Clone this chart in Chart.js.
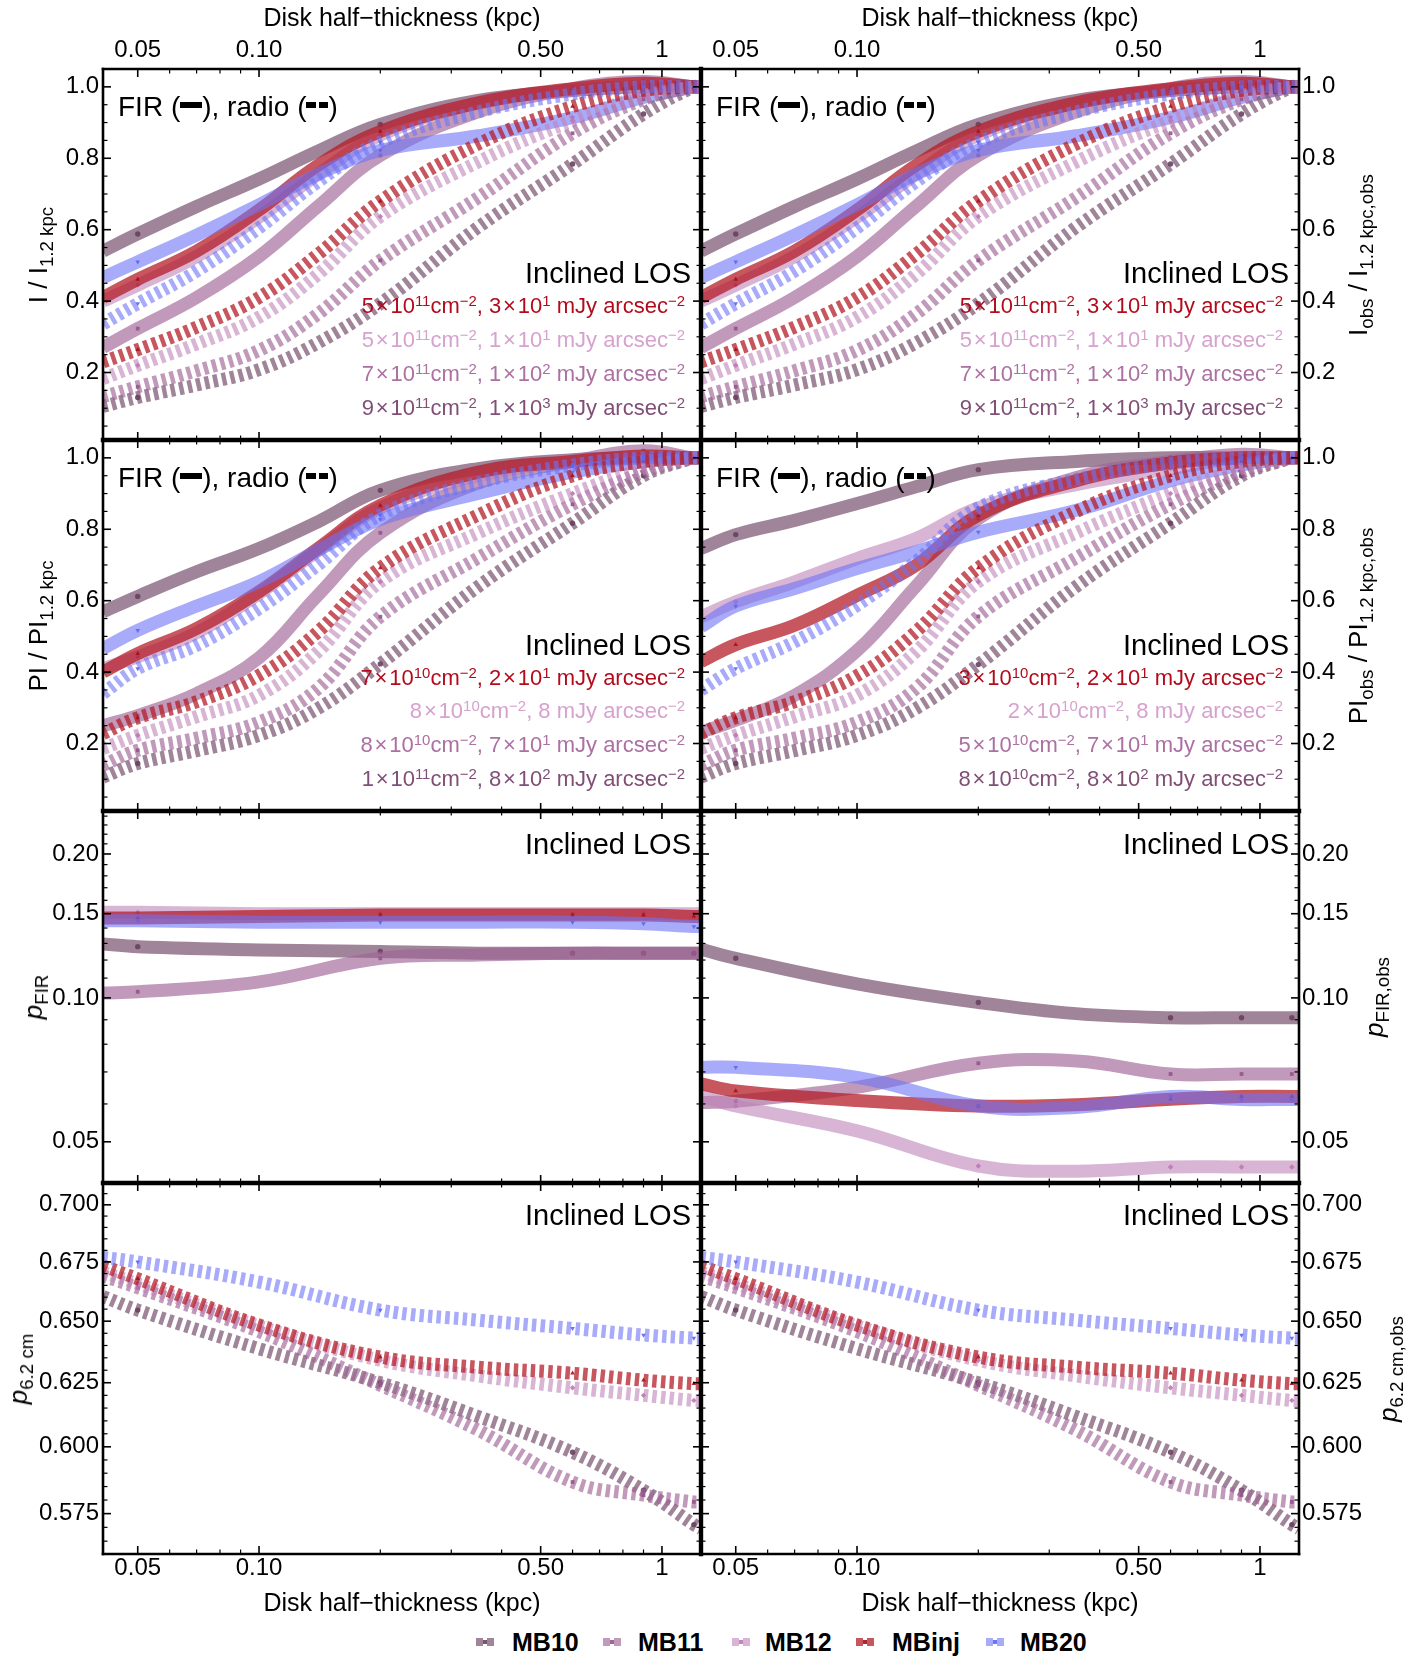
<!DOCTYPE html>
<html>
<head>
<meta charset="utf-8">
<title>Disk half-thickness profiles</title>
<script src="https://cdn.jsdelivr.net/npm/chart.js@4.4.1/dist/chart.umd.min.js"></script>
<style>
  body { margin: 0; width: 1425px; height: 1660px; background: #fff; position: relative; overflow: hidden;
         font-family: 'Liberation Sans', Arial, sans-serif; color: #000; }
  canvas { position: absolute; }
  .t { position: absolute; white-space: nowrap; line-height: 1; }
  .t sup { font-size: 68%; position: relative; top: -0.5em; vertical-align: baseline; line-height: 0; }
  .t sub { font-size: 72%; position: relative; top: 0.32em; vertical-align: baseline; line-height: 0; }
  .bar { display: inline-block; width: 22px; height: 6px; background: #000; vertical-align: 0.27em; }
  .dbar { display: inline-block; width: 22px; height: 6px; vertical-align: 0.27em;
          background: linear-gradient(90deg, #000 0 9.5px, transparent 9.5px 12.5px, #000 12.5px 22px); }
  .leg { position: absolute; font-weight: bold; font-size: 25px; line-height: 1; transform: translateY(-50%); }
  .ic { position: absolute; width: 18px; height: 8px; transform: translate(-50%, -50%); }
  .ic i { position: absolute; left: 7px; top: 2px; width: 4px; height: 4px; }
</style>
</head>
<body>
<script>
// thickness samples (kpc), simulations sit at 0.05, 0.2, 0.6, 0.9, 1.2
const xFine = [0.041, 0.05, 0.07, 0.1, 0.14, 0.2, 0.35, 0.6, 0.9, 1.2, 1.25];
const xCoarse = [0.041, 0.05, 0.1, 0.2, 0.35, 0.6, 0.9, 1.2, 1.25];
const simPoints = [0.05, 0.2, 0.6, 0.9, 1.2];
const models = ['MB10', 'MB11', 'MB12', 'MBinj', 'MB20'];

const xTicks = [0.05, 0.1, 0.5, 1];
const xTickLabels = ['0.05', '0.10', '0.50', '1'];
const xMinor = [0.06, 0.07, 0.08, 0.09, 0.2, 0.3, 0.4, 0.6, 0.7, 0.8, 0.9];
const normTicks = [0.2, 0.4, 0.6, 0.8, 1.0];
const normMinor = [0.05, 0.1, 0.15, 0.25, 0.3, 0.35, 0.45, 0.5, 0.55, 0.65, 0.7, 0.75, 0.85, 0.9, 0.95];
const pFirTicks = [0.05, 0.1, 0.15, 0.2];
const pFirMinor = [0.06, 0.07, 0.08, 0.09, 0.11, 0.12, 0.13, 0.14, 0.16, 0.17, 0.18, 0.19, 0.21, 0.22, 0.23, 0.24];
const p6Ticks = [0.575, 0.6, 0.625, 0.65, 0.675, 0.7];
const p6Minor = [0.565, 0.57, 0.58, 0.585, 0.59, 0.595, 0.605, 0.61, 0.615, 0.62, 0.63, 0.635, 0.64, 0.645,
                 0.655, 0.66, 0.665, 0.67, 0.68, 0.685, 0.69, 0.695, 0.705];

// rows are MB10, MB11, MB12, MBinj, MB20 -- on xFine
const iFir = [
  [0.540, 0.588, 0.665, 0.742, 0.820, 0.895, 0.962, 0.990, 1.000, 1.000, 1.000],
  [0.270, 0.323, 0.410, 0.525, 0.665, 0.808, 0.930, 0.995, 1.015, 1.000, 1.000],
  [0.400, 0.445, 0.525, 0.635, 0.755, 0.865, 0.955, 0.990, 1.000, 1.000, 1.000],
  [0.410, 0.461, 0.540, 0.655, 0.780, 0.875, 0.955, 0.995, 1.010, 1.000, 1.000],
  [0.466, 0.510, 0.585, 0.670, 0.755, 0.822, 0.863, 0.914, 0.970, 1.000, 1.000]
];
const iRadio = [
  [0.105, 0.130, 0.165, 0.208, 0.283, 0.393, 0.607, 0.784, 0.924, 1.000, 1.000],
  [0.132, 0.160, 0.205, 0.262, 0.364, 0.514, 0.690, 0.870, 0.965, 1.000, 1.000],
  [0.183, 0.220, 0.280, 0.355, 0.475, 0.637, 0.790, 0.905, 0.975, 1.000, 1.000],
  [0.230, 0.264, 0.327, 0.410, 0.531, 0.680, 0.840, 0.945, 0.990, 1.000, 1.000],
  [0.336, 0.393, 0.484, 0.605, 0.734, 0.845, 0.930, 0.980, 1.000, 1.000, 1.000]
];
// observed-frame intensity looks the same as the intrinsic one
const iFirObs = iFir;
const iRadioObs = iRadio;

const piFir = [
  [0.569, 0.612, 0.681, 0.746, 0.821, 0.909, 0.970, 0.995, 1.000, 1.000, 1.000],
  [0.250, 0.278, 0.340, 0.440, 0.615, 0.790, 0.930, 0.990, 1.020, 1.000, 1.000],
  [0.410, 0.443, 0.510, 0.620, 0.740, 0.860, 0.950, 0.990, 1.000, 1.000, 1.000],
  [0.400, 0.452, 0.522, 0.625, 0.746, 0.867, 0.960, 0.990, 1.005, 1.000, 1.000],
  [0.466, 0.517, 0.585, 0.653, 0.741, 0.828, 0.900, 0.960, 0.990, 1.000, 1.000]
];
const piRadio = [
  [0.106, 0.144, 0.180, 0.223, 0.298, 0.423, 0.640, 0.817, 0.950, 1.000, 1.000],
  [0.139, 0.181, 0.215, 0.260, 0.354, 0.555, 0.720, 0.870, 0.960, 1.000, 1.000],
  [0.186, 0.223, 0.275, 0.335, 0.457, 0.653, 0.790, 0.900, 0.970, 1.000, 1.000],
  [0.228, 0.272, 0.317, 0.391, 0.513, 0.692, 0.840, 0.950, 0.990, 1.000, 1.000],
  [0.340, 0.410, 0.475, 0.578, 0.700, 0.840, 0.930, 0.980, 1.000, 1.000, 1.000]
];
const piFirObs = [
  [0.746, 0.785, 0.825, 0.872, 0.919, 0.967, 0.990, 1.000, 1.000, 1.000, 1.000],
  [0.232, 0.265, 0.335, 0.460, 0.640, 0.830, 0.945, 0.990, 1.010, 1.000, 1.000],
  [0.555, 0.597, 0.653, 0.718, 0.774, 0.860, 0.925, 0.970, 1.000, 1.000, 1.000],
  [0.429, 0.477, 0.531, 0.615, 0.699, 0.839, 0.936, 0.986, 1.000, 1.000, 1.000],
  [0.527, 0.585, 0.634, 0.690, 0.737, 0.792, 0.853, 0.936, 0.980, 1.000, 1.000]
];
const piRadioObs = [
  [0.106, 0.144, 0.180, 0.223, 0.298, 0.421, 0.640, 0.817, 0.950, 1.000, 1.000],
  [0.139, 0.181, 0.215, 0.260, 0.354, 0.556, 0.720, 0.870, 0.960, 1.000, 1.000],
  [0.186, 0.223, 0.275, 0.335, 0.457, 0.653, 0.790, 0.900, 0.970, 1.000, 1.000],
  [0.228, 0.272, 0.317, 0.390, 0.513, 0.692, 0.850, 0.950, 0.990, 1.000, 1.000],
  [0.350, 0.410, 0.485, 0.587, 0.709, 0.860, 0.940, 0.985, 1.000, 1.000, 1.000]
];

// on xCoarse
const pFir = [
  [0.1297, 0.1280, 0.1260, 0.1250, 0.1240, 0.1240, 0.1240, 0.1240, 0.1240],
  [0.1024, 0.1030, 0.1080, 0.1210, 0.1230, 0.1240, 0.1240, 0.1240, 0.1240],
  [0.1510, 0.1510, 0.1500, 0.1500, 0.1500, 0.1500, 0.1500, 0.1500, 0.1500],
  [0.1470, 0.1470, 0.1480, 0.1490, 0.1490, 0.1490, 0.1490, 0.1480, 0.1480],
  [0.1450, 0.1450, 0.1440, 0.1440, 0.1440, 0.1440, 0.1430, 0.1410, 0.1410]
];
const pFirObs = [
  [0.1264, 0.1210, 0.1070, 0.0978, 0.0927, 0.0909, 0.0909, 0.0909, 0.0909],
  [0.0604, 0.0608, 0.0650, 0.0730, 0.0738, 0.0693, 0.0693, 0.0693, 0.0693],
  [0.0624, 0.0594, 0.0527, 0.0445, 0.0434, 0.0443, 0.0443, 0.0443, 0.0443],
  [0.0661, 0.0639, 0.0610, 0.0594, 0.0598, 0.0614, 0.0622, 0.0622, 0.0622],
  [0.0716, 0.0716, 0.0682, 0.0594, 0.0590, 0.0622, 0.0613, 0.0613, 0.0613]
];
const p6 = [
  [0.6603, 0.6546, 0.6387, 0.6250, 0.6117, 0.5979, 0.5836, 0.5710, 0.5695],
  [0.6690, 0.6640, 0.6457, 0.6240, 0.6064, 0.5867, 0.5818, 0.5793, 0.5793],
  [0.6706, 0.6657, 0.6480, 0.6340, 0.6277, 0.6230, 0.6200, 0.6180, 0.6180],
  [0.6733, 0.6678, 0.6484, 0.6353, 0.6312, 0.6288, 0.6260, 0.6246, 0.6246],
  [0.6770, 0.6750, 0.6664, 0.6546, 0.6504, 0.6470, 0.6443, 0.6430, 0.6430]
];
const p6Obs = p6;

const X = '&#8202;×&#8202;';
const notesI = [
  `5${X}10<sup>11</sup>cm<sup>−2</sup>, 3${X}10<sup>1</sup> mJy arcsec<sup>−2</sup>`,
  `5${X}10<sup>11</sup>cm<sup>−2</sup>, 1${X}10<sup>1</sup> mJy arcsec<sup>−2</sup>`,
  `7${X}10<sup>11</sup>cm<sup>−2</sup>, 1${X}10<sup>2</sup> mJy arcsec<sup>−2</sup>`,
  `9${X}10<sup>11</sup>cm<sup>−2</sup>, 1${X}10<sup>3</sup> mJy arcsec<sup>−2</sup>`
];
const notesPI = [
  `7${X}10<sup>10</sup>cm<sup>−2</sup>, 2${X}10<sup>1</sup> mJy arcsec<sup>−2</sup>`,
  `8${X}10<sup>10</sup>cm<sup>−2</sup>, 8 mJy arcsec<sup>−2</sup>`,
  `8${X}10<sup>10</sup>cm<sup>−2</sup>, 7${X}10<sup>1</sup> mJy arcsec<sup>−2</sup>`,
  `1${X}10<sup>11</sup>cm<sup>−2</sup>, 8${X}10<sup>2</sup> mJy arcsec<sup>−2</sup>`
];
const notesPIObs = [
  `3${X}10<sup>10</sup>cm<sup>−2</sup>, 2${X}10<sup>1</sup> mJy arcsec<sup>−2</sup>`,
  `2${X}10<sup>10</sup>cm<sup>−2</sup>, 8 mJy arcsec<sup>−2</sup>`,
  `5${X}10<sup>10</sup>cm<sup>−2</sup>, 7${X}10<sup>1</sup> mJy arcsec<sup>−2</sup>`,
  `8${X}10<sup>10</sup>cm<sup>−2</sup>, 8${X}10<sup>2</sup> mJy arcsec<sup>−2</sup>`
];
const noteColors = ['rgb(178,12,28)', 'rgb(214,162,206)', 'rgb(172,112,162)', 'rgb(128,78,118)'];

const lineColors = ['rgba(120,80,110,0.7)', 'rgba(160,100,150,0.65)', 'rgba(190,130,185,0.6)',
                    'rgba(180,30,40,0.75)', 'rgba(110,115,245,0.6)'];
const markColors = ['rgba(105,65,95,0.9)', 'rgba(150,85,140,0.9)', 'rgba(190,120,180,0.9)',
                    'rgba(165,15,25,0.9)', 'rgba(95,100,240,0.9)'];
const markStyles = ['circle', 'rect', 'rectRot', 'triangle', 'triangle'];
const markRot = [0, 0, 0, 0, 180];

// page geometry
const W = 1425;
const colLeft = [103, 701], colRight = [701, 1299];
const rowTop = [69, 440, 811, 1183], rowBottom = [440, 811, 1183, 1554];
const tickFont = { family: "'Liberation Sans', Arial, sans-serif", size: 24, lineHeight: 1 };

function series(xs, ys, m, dashed) {
  return {
    data: xs.map((x, i) => ({ x, y: ys[i] })),
    borderColor: lineColors[m],
    borderWidth: 13,
    borderDash: dashed ? [4.5, 4.2] : [],
    borderCapStyle: 'butt',
    tension: 0.4,
    fill: false,
    pointRadius: xs.map(x => simPoints.includes(x) ? 2.7 : 0),
    pointStyle: markStyles[m],
    pointRotation: markRot[m],
    pointBackgroundColor: markColors[m],
    pointBorderWidth: 0,
    order: (dashed ? 0 : 10) + (4 - m),
    clip: 0
  };
}

const framePlugin = {
  id: 'frame',
  afterDatasetsDraw(chart, args, o) {
    const { ctx, chartArea: a } = chart;
    const sx = chart.scales.x, sy = chart.scales.y;
    ctx.save();
    ctx.strokeStyle = '#000';
    const seg = (x1, y1, x2, y2, w) => {
      ctx.lineWidth = w; ctx.beginPath(); ctx.moveTo(x1, y1); ctx.lineTo(x2, y2); ctx.stroke();
    };
    const inX = v => v > sx.min && v < sx.max;
    const inY = v => v > sy.min && v < sy.max;
    ctx.lineCap = 'butt';
    [[xTicks, 8, 1.6], [xMinor, 4.5, 1.2]].forEach(([vals, len, w]) => vals.filter(inX).forEach(v => {
      const p = sx.getPixelForValue(v);
      seg(p, a.top, p, a.top + len, w);
      seg(p, a.bottom, p, a.bottom - len, w);
    }));
    [[o.yMajor, 8, 1.6], [o.yMinor, 4.5, 1.2]].forEach(([vals, len, w]) => vals.filter(inY).forEach(v => {
      const p = sy.getPixelForValue(v);
      seg(a.left, p, a.left + len, p, w);
      seg(a.right, p, a.right - len, p, w);
    }));
    ctx.lineCap = 'square';
    const wo = 2.6, wi = 4.4;
    seg(a.left, a.top, a.right, a.top, o.inner.top ? wi : wo);
    seg(a.left, a.bottom, a.right, a.bottom, o.inner.bottom ? wi : wo);
    seg(a.left, a.top, a.left, a.bottom, o.inner.left ? wi : wo);
    seg(a.right, a.top, a.right, a.bottom, o.inner.right ? wi : wo);
    ctx.restore();
  }
};

function panel(c, r, xs, solid, dashed, ycfg) {
  const cv = document.createElement('canvas');
  const left = c === 0 ? 0 : colLeft[1];
  const right = c === 0 ? colRight[0] : W;
  const top = r === 0 ? 0 : rowTop[r];
  const bottom = r === 3 ? 1620 : rowBottom[r];
  cv.width = right - left; cv.height = bottom - top;
  cv.style.left = left + 'px'; cv.style.top = top + 'px';
  cv.style.width = cv.width + 'px'; cv.style.height = cv.height + 'px';
  document.body.appendChild(cv);
  const yW = c === 0 ? colLeft[0] : W - colRight[1];
  const xH = r === 0 ? rowTop[0] : r === 3 ? 1620 - rowBottom[3] : 0;

  const datasets = [];
  if (solid) solid.forEach((ys, m) => datasets.push(series(xs, ys, m, false)));
  if (dashed) dashed.forEach((ys, m) => datasets.push(series(xs, ys, m, true)));

  new Chart(cv, {
    type: 'line',
    data: { datasets },
    options: {
      responsive: false, animation: false, devicePixelRatio: 1,
      layout: { padding: 0, autoPadding: false },
      events: [],
      plugins: {
        legend: { display: false }, tooltip: { enabled: false },
        frame: {
          yMajor: ycfg.ticks, yMinor: ycfg.minor,
          inner: { top: r > 0, bottom: r < 3, left: c === 1, right: c === 0 }
        }
      },
      scales: {
        x: {
          type: 'logarithmic', min: 0.041, max: 1.25, bounds: 'data',
          position: r === 0 ? 'top' : 'bottom',
          grid: { display: false, drawTicks: false }, border: { display: false },
          afterBuildTicks: s => { s.ticks = xTicks.map(v => ({ value: v })); },
          afterFit: s => { s.height = xH; s.paddingLeft = 0; s.paddingRight = 0; },
          ticks: {
            display: r === 0 || r === 3, autoSkip: false, maxRotation: 0,
            padding: r === 0 ? 7 : 2, font: tickFont, color: '#000',
            callback: v => xTickLabels[xTicks.indexOf(v)] ?? ''
          }
        },
        y: {
          type: ycfg.type, min: ycfg.min, max: ycfg.max, bounds: 'data',
          position: c === 0 ? 'left' : 'right',
          grid: { display: false, drawTicks: false }, border: { display: false },
          afterBuildTicks: s => { s.ticks = ycfg.ticks.map(v => ({ value: v })); },
          afterFit: s => { s.width = yW; s.paddingTop = 0; s.paddingBottom = 0; },
          ticks: {
            autoSkip: false, padding: c === 0 ? 4 : 3, font: tickFont, color: '#000',
            callback: v => Number(v).toFixed(ycfg.dec)
          }
        }
      }
    },
    plugins: [framePlugin]
  });
}

const yNorm = { type: 'linear', min: 0.011, max: 1.05, ticks: normTicks, minor: normMinor, dec: 1 };
const yPFir = { type: 'logarithmic', min: 0.041, max: 0.246, ticks: pFirTicks, minor: pFirMinor, dec: 2 };
const yP6 = { type: 'logarithmic', min: 0.5604, max: 0.7098, ticks: p6Ticks, minor: p6Minor, dec: 3 };

panel(0, 0, xFine, iFir, iRadio, yNorm);
panel(1, 0, xFine, iFirObs, iRadioObs, yNorm);
panel(0, 1, xFine, piFir, piRadio, yNorm);
panel(1, 1, xFine, piFirObs, piRadioObs, yNorm);
panel(0, 2, xCoarse, pFir, null, yPFir);
panel(1, 2, xCoarse, pFirObs, null, yPFir);
panel(0, 3, xCoarse, null, p6, yP6);
panel(1, 3, xCoarse, null, p6Obs, yP6);

// text overlays
function txt(html, x, y, anchor, css) {
  const d = document.createElement('div');
  d.className = 't';
  d.innerHTML = html;
  if (css) d.style.cssText = css;
  d.style.left = x + 'px'; d.style.top = y + 'px';
  const tx = anchor === 'left' ? '0' : anchor === 'right' ? '-100%' : '-50%';
  d.style.transform = anchor === 'rot' ? 'translate(-50%,-50%) rotate(-90deg)' : `translate(${tx},-50%)`;
  document.body.appendChild(d);
  return d;
}

const xTitle = 'Disk half−thickness (kpc)';
[402, 1000].forEach(cx => {
  txt(xTitle, cx, 17, 'center', 'font-size:25px');
  txt(xTitle, cx, 1602, 'center', 'font-size:25px');
});

const yTitlesLeft = ['I / I<sub>1.2 kpc</sub>', 'PI / PI<sub>1.2 kpc</sub>', '<i>p</i><sub>FIR</sub>', '<i>p</i><sub>6.2 cm</sub>'];
const yTitlesRight = ['I<sub>obs</sub> / I<sub>1.2 kpc,obs</sub>', 'PI<sub>obs</sub> / PI<sub>1.2 kpc,obs</sub>',
                      '<i>p</i><sub>FIR,obs</sub>', '<i>p</i><sub>6.2 cm,obs</sub>'];
const titleXLeft = [38, 38, 33, 18], titleXRight = [1358, 1358, 1374, 1388];
for (let r = 0; r < 4; r++) {
  const cy = (rowTop[r] + rowBottom[r]) / 2;
  txt(yTitlesLeft[r], titleXLeft[r], cy, 'rot', 'font-size:26px');
  txt(yTitlesRight[r], titleXRight[r], cy, 'rot', 'font-size:26px');
}

const firRadio = 'FIR (<span class="bar"></span>), radio (<span class="dbar"></span>)';
const losY = [273, 645, 844, 1215];
const noteY = [[306, 340, 374, 408], [678, 711, 745, 779]];
for (let c = 0; c < 2; c++) {
  const pl = colLeft[c], pr = colRight[c];
  txt(firRadio, pl + 15, 107, 'left', 'font-size:28px');
  txt(firRadio, pl + 15, 478, 'left', 'font-size:28px');
  losY.forEach(y => txt('Inclined LOS', pr - 10, y, 'right', 'font-size:29px'));
  const rowsNotes = [notesI, c === 0 ? notesPI : notesPIObs];
  rowsNotes.forEach((notes, r) => notes.forEach((n, k) =>
    txt(n, pr - 16, noteY[r][k], 'right', `font-size:22px;color:${noteColors[k]}`)));
}

// legend
const legIcon = [485, 612, 741, 865, 995];
const legText = [512, 638, 765, 892, 1020];
models.forEach((m, k) => {
  const ic = document.createElement('div');
  ic.className = 'ic';
  ic.style.left = legIcon[k] + 'px'; ic.style.top = '1642px';
  ic.style.background = `linear-gradient(90deg, ${lineColors[k]} 0 7px, transparent 7px 11px, ${lineColors[k]} 11px 18px)`;
  ic.innerHTML = `<i style="background:${markColors[k]}"></i>`;
  document.body.appendChild(ic);
  const t = document.createElement('div');
  t.className = 'leg';
  t.textContent = m;
  t.style.left = legText[k] + 'px'; t.style.top = '1642px';
  document.body.appendChild(t);
});
</script>
</body>
</html>
